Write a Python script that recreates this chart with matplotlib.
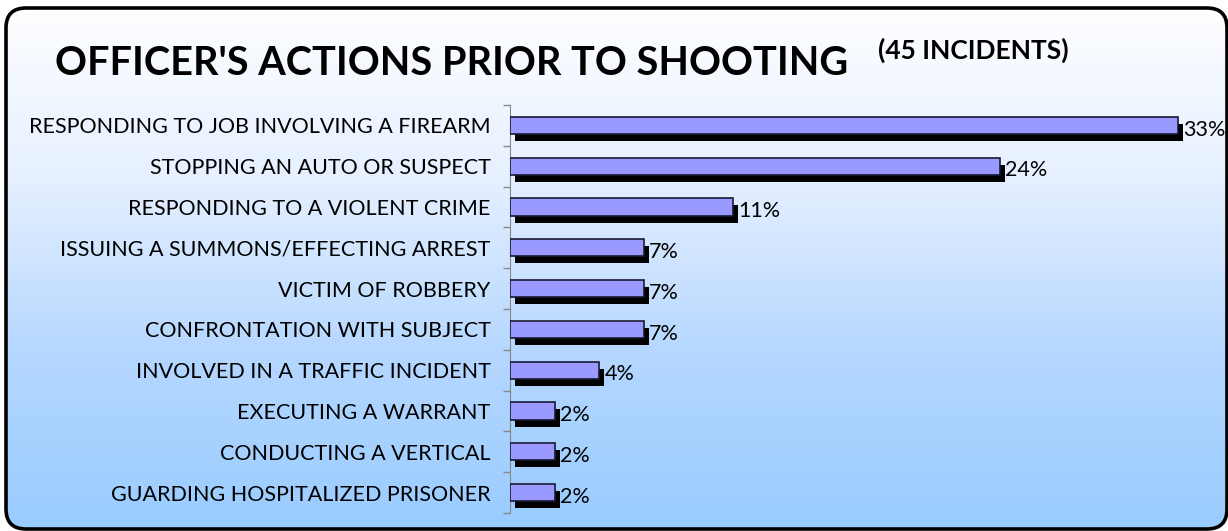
import numpy as np
import matplotlib
matplotlib.use("Agg")
import matplotlib.pyplot as plt
from matplotlib.patches import FancyBboxPatch
from matplotlib.colors import LinearSegmentedColormap
import matplotlib.transforms as mtransforms

plt.rcParams['font.family'] = ['Lato', 'DejaVu Sans']

categories = [
    "RESPONDING TO JOB INVOLVING A FIREARM",
    "STOPPING AN AUTO OR SUSPECT",
    "RESPONDING TO A VIOLENT CRIME",
    "ISSUING A SUMMONS/EFFECTING ARREST",
    "VICTIM OF ROBBERY",
    "CONFRONTATION WITH SUBJECT",
    "INVOLVED IN A TRAFFIC INCIDENT",
    "EXECUTING A WARRANT",
    "CONDUCTING A VERTICAL",
    "GUARDING HOSPITALIZED PRISONER",
]
incidents = [15, 11, 5, 3, 3, 3, 2, 1, 1, 1]
total_incidents = 45
percent = [100.0 * n / total_incidents for n in incidents]

fig = plt.figure(figsize=(12.28, 5.31), dpi=100)

# rounded frame with a white-to-blue vertical gradient inside
frame = FancyBboxPatch((0.06, 0.02), 12.21, 5.21,
                       boxstyle="round,pad=0,rounding_size=0.2",
                       transform=fig.dpi_scale_trans,
                       facecolor="none", edgecolor="black", lw=2.6, zorder=3)
bg = fig.add_axes([0, 0, 1, 1], zorder=-1)
bg.axis("off")
cmap = LinearSegmentedColormap.from_list("bg", ["#ffffff", "#e6f0ff", "#b5d7ff", "#99ccff"])
grad = np.linspace(0, 1, 256).reshape(-1, 1)
img = bg.imshow(grad, aspect="auto", cmap=cmap, extent=[0, 1, 0, 1],
                transform=bg.transAxes, vmin=0, vmax=1)
clip = FancyBboxPatch((0.06, 0.02), 12.21, 5.21,
                      boxstyle="round,pad=0,rounding_size=0.2",
                      transform=fig.dpi_scale_trans, facecolor="none", edgecolor="none")
bg.add_patch(clip)
img.set_clip_path(clip)
bg.add_patch(frame)

ax = fig.add_axes([510 / 1228, 1 - 513 / 531, 718 / 1228, 408 / 531])
ax.patch.set_visible(False)
ypos = np.arange(len(categories))

shadow_tr = mtransforms.offset_copy(ax.transData, fig=fig, x=5, y=-7, units="dots")
ax.barh(ypos, percent, height=0.42, color="black", transform=shadow_tr, zorder=2)
ax.barh(ypos, percent, height=0.42, color="#9999ff", edgecolor="#1a1a33",
        lw=1.2, zorder=3)

for y, p in zip(ypos, percent):
    ax.annotate(f"{p:.0f}%", (p, y), xytext=(4, -3), textcoords="offset points",
                va="center", ha="left", fontsize=15.5, color="black", zorder=4)

ax.set_xlim(0, 718 / 20.04)
ax.set_ylim(len(categories) - 0.5, -0.5)
ax.set_yticks(ypos)
ax.set_yticklabels(categories, fontsize=15.5)
ax.set_yticks(np.arange(-0.5, len(categories)), minor=True)
ax.tick_params(axis="y", which="major", length=0, pad=14)
ax.tick_params(axis="y", which="minor", length=5, color="#888888", width=1)
ax.set_xticks([])
for side in ["top", "right", "bottom"]:
    ax.spines[side].set_visible(False)
ax.spines["left"].set_color("#888888")

fig.text(55 / 1228, 1 - 75 / 531, "OFFICER'S ACTIONS PRIOR TO SHOOTING",
         fontsize=28.5, fontweight="bold", ha="left", va="baseline")
fig.text(878 / 1228, 1 - 59 / 531, "(45 INCIDENTS)",
         fontsize=19, fontweight="bold", ha="left", va="baseline")

fig.savefig("out.png", dpi=100)
